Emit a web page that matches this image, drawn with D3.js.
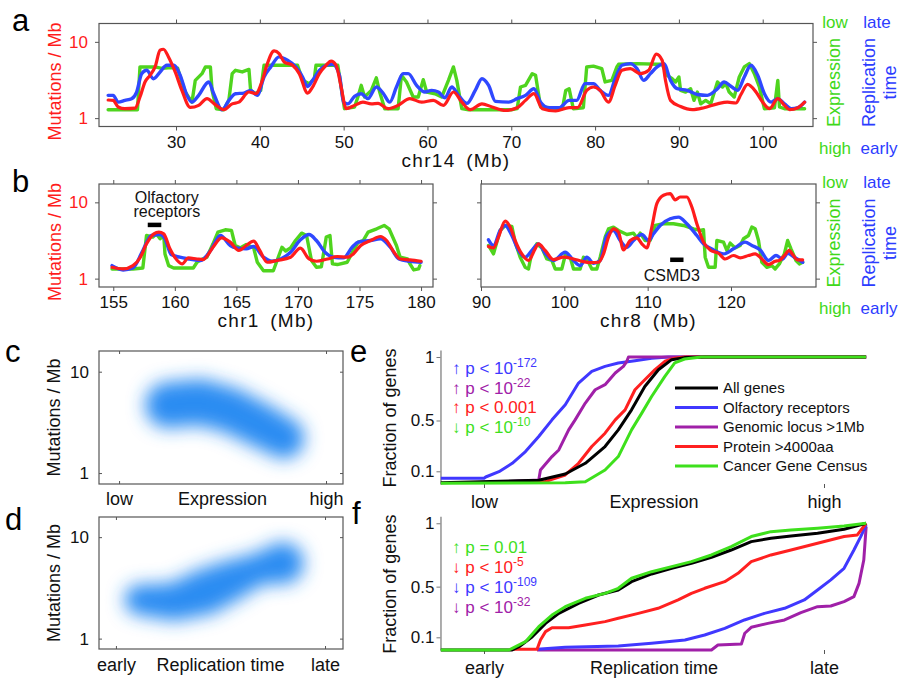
<!DOCTYPE html>
<html>
<head>
<meta charset="utf-8">
<script src="https://cdnjs.cloudflare.com/ajax/libs/d3/7.8.5/d3.min.js"></script>
<style>
  body { margin: 0; background: #fff; }
  svg { display: block; font-family: "Liberation Sans", Arial, Helvetica, sans-serif; }
</style>
</head>
<body>
<svg id="fig" width="900" height="681"></svg>
<script>
// ---- data ----
// tracks: [position (Mb), value on the mutations / Mb axis]
var chr14Ticks = [30, 40, 50, 60, 70, 80, 90, 100];
var chr1Ticks = [155, 160, 165, 170, 175, 180];
var chr8Ticks = [90, 100, 110, 120];
var mutTicks = [1, 10];

var chr14Mut = [[21.9,1.73],[22.5,1.71],[23.1,1.40],[23.9,1.33],[25.1,1.35],[25.7,1.89],[26.3,2.98],[26.9,3.64],[27.5,4.69],[28.1,7.77],[28.5,8.0],[29.1,6.35],[29.9,4.03],[30.7,2.31],[31.7,1.38],[32.7,1.47],[33.7,1.80],[34.5,1.56],[35.7,1.29],[36.7,1.54],[37.5,1.62],[38.7,2.20],[39.5,2.09],[40.3,3.13],[40.9,5.19],[41.7,7.6],[42.3,7.02],[42.9,5.46],[43.9,4.93],[44.7,3.83],[45.7,2.13],[46.3,2.56],[47.1,3.83],[47.9,4.93],[48.5,5.6],[49.1,4.93],[49.7,2.56],[50.3,1.33],[51.3,1.47],[52.3,1.62],[53.3,1.54],[54.1,1.56],[55.3,1.33],[56.5,1.47],[57.9,1.80],[59.3,1.62],[60.7,1.71],[61.9,1.47],[63.1,2.20],[64.1,1.62],[65.1,1.29],[66.5,1.54],[67.7,1.40],[69.3,1.26],[70.7,1.37],[71.7,1.71],[72.7,2.09],[73.7,1.33],[75.3,1.24],[76.9,1.37],[77.9,1.37],[79.0,2.31],[79.8,2.56],[80.6,2.31],[81.6,1.62],[82.4,2.69],[83.2,4.24],[84.2,4.46],[85.4,3.83],[86.4,4.24],[87.3,6.9],[88.0,5.74],[88.4,3.13],[89.0,1.71],[90.2,1.42],[91.6,1.29],[93.0,1.37],[94.6,1.54],[95.8,1.62],[96.8,1.58],[97.4,2.04],[98.2,2.77],[99.2,2.20],[100.0,1.62],[100.8,1.33],[101.8,1.80],[102.6,1.47],[103.2,1.29],[104.2,1.37],[105.0,1.62]];
var chr14Rep = [[21.9,1.99],[22.5,1.99],[23.1,1.62],[23.9,1.71],[24.7,1.80],[25.3,2.20],[25.9,3.83],[26.5,4.24],[27.3,3.29],[28.1,4.03],[28.9,4.93],[29.7,4.93],[30.5,3.64],[31.3,1.99],[31.9,1.62],[32.7,1.99],[33.9,2.98],[34.5,2.09],[35.5,1.29],[36.3,1.71],[37.1,2.09],[38.1,2.13],[38.9,2.31],[39.7,1.99],[40.5,3.46],[41.3,4.69],[42.3,6.35],[43.3,5.74],[44.3,4.69],[45.1,3.46],[45.7,2.60],[46.3,3.13],[47.1,4.24],[47.9,4.93],[48.7,5.08],[49.5,3.64],[50.0,1.60],[50.5,1.54],[51.3,1.93],[52.1,2.09],[52.9,1.80],[53.9,2.56],[54.7,2.13],[55.5,1.62],[56.3,2.56],[57.1,3.83],[57.7,3.83],[58.7,2.69],[59.7,2.20],[60.5,2.31],[61.3,2.20],[62.1,1.85],[62.9,2.56],[63.7,1.99],[64.7,1.56],[65.7,2.31],[66.5,3.29],[67.3,2.69],[68.1,1.66],[69.7,1.62],[70.7,1.80],[71.7,1.99],[72.7,2.43],[73.5,1.62],[74.5,1.37],[75.7,1.37],[76.9,1.71],[77.8,1.71],[78.8,2.83],[79.8,2.83],[80.6,2.31],[81.6,1.99],[82.4,3.29],[83.2,4.93],[84.2,5.19],[85.0,4.46],[85.8,3.13],[86.6,3.83],[87.4,4.69],[88.2,5.19],[89.0,3.13],[89.8,2.43],[91.0,2.31],[92.2,2.04],[93.4,1.99],[94.6,2.43],[95.4,2.98],[96.2,2.62],[97.0,2.31],[97.8,3.46],[98.6,4.93],[99.4,3.64],[100.2,2.09],[101.0,1.62],[101.8,1.80],[102.6,1.54],[103.4,1.33],[104.2,1.37],[105.0,1.62]];
var chr14Expr = [[21.9,1.29],[25.4,1.29],[25.7,4.69],[27.5,4.69],[28.3,4.5],[29.5,4.6],[30.2,4.5],[30.5,3.46],[31.1,2.20],[31.9,1.62],[32.3,3.13],[33.1,3.83],[33.5,4.69],[34.1,4.69],[34.3,2.31],[34.8,1.33],[35.7,1.29],[36.3,1.71],[36.7,3.83],[37.1,4.24],[37.9,4.03],[38.7,4.35],[38.9,2.31],[39.5,2.09],[40.1,2.31],[40.5,4.93],[44.5,4.93],[45.1,3.13],[45.9,2.83],[46.5,3.29],[46.7,4.93],[49.3,4.93],[49.7,2.56],[50.1,1.33],[51.3,1.40],[51.7,1.89],[52.1,2.69],[52.5,1.89],[53.3,2.31],[53.9,3.38],[54.3,2.20],[54.9,1.33],[56.5,1.33],[56.9,3.64],[57.5,2.98],[58.3,1.89],[58.9,1.89],[59.5,3.19],[59.9,2.20],[60.9,2.09],[61.7,1.89],[62.5,3.13],[63.1,4.69],[63.5,3.13],[64.1,1.33],[64.9,1.29],[70.1,1.29],[70.7,1.33],[71.1,2.56],[71.7,2.69],[72.5,3.83],[72.9,3.64],[73.5,1.40],[76.1,1.33],[76.5,2.31],[76.9,2.43],[77.4,1.33],[78.6,1.37],[79.0,4.69],[79.8,4.80],[80.8,4.46],[81.2,2.98],[82.0,3.13],[82.6,4.69],[82.8,5.08],[85.0,5.19],[87.4,5.08],[88.0,5.08],[88.6,3.64],[89.2,3.29],[89.6,2.98],[90.0,3.46],[90.2,2.31],[90.8,2.20],[91.4,2.43],[91.8,1.71],[92.2,2.20],[92.6,1.54],[93.2,1.71],[93.8,1.54],[94.6,2.98],[95.2,2.56],[95.6,2.83],[96.0,2.20],[96.6,1.89],[97.2,3.46],[97.8,4.69],[98.4,5.19],[99.0,3.83],[99.6,2.56],[100.2,1.33],[101.4,1.37],[101.8,3.13],[102.0,1.40],[102.6,1.33],[105.0,1.33]];

var chr1Mut = [[154.9,1.41],[155.8,1.34],[156.6,1.48],[157.2,1.91],[157.7,2.86],[158.3,3.87],[158.7,4.07],[159.1,3.87],[159.6,2.46],[160.2,1.73],[160.6,1.56],[161.1,1.87],[161.8,1.81],[162.3,1.78],[163.1,2.58],[163.8,3.43],[164.5,3.01],[165.2,2.34],[165.8,2.72],[166.4,3.10],[166.9,2.34],[167.5,1.64],[168.3,1.73],[169.4,1.91],[170.2,2.51],[170.9,1.81],[171.5,1.69],[172.4,1.81],[173.2,1.95],[174.0,1.91],[174.5,2.11],[175.1,2.72],[175.9,3.16],[176.7,3.57],[177.2,3.16],[177.8,2.22],[178.3,1.81],[179.1,1.76],[180.0,1.69]];
var chr1Rep = [[154.9,1.48],[155.8,1.30],[156.6,1.38],[157.4,2.34],[158.1,3.68],[158.8,3.79],[159.2,3.33],[159.7,2.07],[160.4,1.91],[161.2,1.81],[162.1,1.73],[162.9,2.34],[163.7,3.68],[164.5,2.72],[165.0,2.53],[165.8,2.46],[166.4,2.64],[167.2,1.91],[167.9,1.69],[168.6,1.81],[169.4,2.22],[170.2,3.23],[170.9,3.79],[171.5,3.16],[172.2,2.22],[172.9,1.91],[173.7,1.87],[174.4,2.58],[174.9,3.01],[175.9,3.16],[176.7,3.33],[177.5,2.58],[178.2,1.81],[179.1,1.69],[180.0,1.64]];
var chr1Expr = [[154.9,1.34],[156.6,1.34],[157.4,1.38],[157.7,3.68],[158.2,3.50],[158.5,3.87],[158.8,3.33],[159.1,3.68],[159.2,2.11],[159.5,1.48],[159.9,1.38],[161.5,1.38],[161.8,1.64],[162.1,1.76],[162.6,1.91],[163.1,2.86],[163.5,4.07],[164.1,4.37],[164.6,4.28],[164.9,2.72],[165.3,2.53],[165.8,2.80],[166.4,2.53],[166.7,1.64],[167.2,1.27],[168.0,1.27],[168.7,2.58],[169.0,2.30],[169.4,2.53],[169.8,3.16],[170.3,3.95],[170.7,3.68],[171.1,1.73],[171.5,1.41],[171.9,1.43],[172.3,3.50],[172.6,3.68],[172.8,1.56],[173.2,1.53],[174.0,1.64],[174.5,2.34],[174.9,3.01],[175.3,3.16],[175.7,4.07],[176.4,4.50],[177.0,4.98],[177.4,4.50],[178.0,2.72],[178.3,1.91],[178.9,1.81],[179.1,1.56],[179.4,1.30],[179.8,1.34],[179.9,1.48]];

var chr8Mut = [[90.9,2.64],[91.5,2.53],[92.1,3.50],[92.9,5.68],[93.5,4.74],[94.1,3.16],[94.9,2.11],[95.7,1.73],[96.5,2.46],[96.9,2.86],[97.7,2.34],[98.7,1.78],[99.9,1.91],[101.1,1.81],[102.1,1.69],[103.1,1.62],[104.1,1.64],[104.7,2.11],[105.3,3.50],[105.9,4.50],[106.5,4.07],[107.1,2.38],[107.9,3.16],[108.7,3.43],[109.3,2.86],[109.9,2.53],[110.5,4.74],[111.1,9.6],[111.9,12.4],[112.7,13.0],[113.3,10.8],[113.9,11.75],[114.7,11.75],[115.3,8.68],[115.9,5.24],[116.7,3.01],[117.5,2.38],[118.5,2.15],[119.3,1.81],[120.3,2.01],[121.1,1.87],[122.1,2.01],[122.9,2.11],[123.7,1.81],[124.5,1.53],[125.3,1.69],[125.8,1.73],[126.4,2.01],[127.0,2.34],[127.4,2.07],[128.0,1.76],[128.6,1.76]];
var chr8Rep = [[90.9,3.23],[91.5,2.72],[92.3,4.28],[92.9,4.98],[93.7,3.68],[94.5,2.34],[95.3,1.91],[96.1,2.34],[96.9,2.86],[97.7,2.15],[98.7,1.73],[100.1,2.22],[101.1,1.73],[101.9,1.48],[102.7,1.91],[103.5,1.59],[104.3,1.73],[105.1,3.68],[105.9,4.28],[106.7,3.16],[107.5,2.58],[108.3,3.16],[109.3,3.79],[110.1,3.16],[110.7,3.87],[111.5,4.98],[112.7,6.1],[113.7,6.41],[114.7,5.24],[115.9,3.68],[116.7,2.86],[117.9,2.38],[119.1,2.11],[120.3,2.46],[121.7,3.01],[122.5,2.72],[123.5,2.38],[124.5,1.73],[125.4,2.01],[126.2,1.81],[126.8,2.15],[127.6,1.91],[128.6,1.64]];
var chr8Expr = [[90.9,2.72],[91.5,2.11],[92.3,4.28],[92.9,4.98],[93.7,4.83],[94.1,3.01],[94.7,1.91],[95.3,1.41],[95.7,1.34],[96.1,2.22],[96.7,2.86],[97.3,2.53],[97.9,1.81],[98.5,1.73],[98.9,1.34],[99.7,1.34],[100.1,2.01],[100.7,1.91],[101.1,1.34],[101.9,1.34],[102.3,1.91],[102.9,1.64],[103.3,1.34],[103.9,1.34],[104.3,1.91],[104.9,3.50],[105.3,4.50],[105.9,4.74],[106.5,4.28],[107.5,3.79],[108.3,3.95],[108.7,3.43],[109.1,3.95],[109.7,3.16],[110.3,3.16],[110.9,4.98],[111.9,5.24],[113.1,5.24],[114.3,4.98],[115.5,4.50],[116.3,4.28],[116.7,4.37],[116.9,1.91],[117.3,1.41],[118.1,1.41],[118.3,3.16],[119.1,3.01],[119.5,2.34],[119.9,2.92],[120.5,2.53],[121.1,2.72],[121.5,3.33],[122.1,3.68],[122.5,4.74],[122.9,4.50],[123.3,3.16],[123.7,1.64],[124.3,1.41],[124.9,1.48],[125.3,1.34],[125.8,1.56],[126.4,2.11],[126.8,3.16],[127.2,2.46],[127.8,1.73],[128.2,1.56],[128.6,1.64]];

// gene bands marked on the tracks: [start Mb, end Mb], level on the mutation axis
var olfactoryBand = [157.8, 158.9], olfactoryLevel = 5.1;
var csmd3Band = [112.7, 114.3], csmd3Level = 1.78;

// density panels: blob centres (expression / replication rank 0..1, mutations / Mb) and spread in decades
var exprDensX = [0.237, 0.391, 0.536, 0.671, 0.797];
var exprDensMut = [4.68, 5.01, 4.18, 3.04, 2.21];
var exprDensSpread = [0.225, 0.225, 0.22, 0.215, 0.2];
var repDensX = [0.115, 0.282, 0.426, 0.545, 0.679, 0.799];
var repDensMut = [2.41, 2.30, 2.89, 3.70, 4.86, 5.56];
var repDensSpread = [0.15, 0.185, 0.225, 0.2, 0.155, 0.205];

// cumulative fraction of genes: [rank 0..1, fraction]
var fracTicks = [0.1, 0.5, 1];
var exprOlf = [[-0.127,0.045],[0.0,0.045],[0.005,0.055],[0.044,0.097],[0.083,0.163],[0.122,0.255],[0.161,0.374],[0.2,0.505],[0.239,0.624],[0.278,0.795],[0.317,0.887],[0.356,0.926],[0.395,0.953],[0.444,0.971],[0.493,0.99],[0.542,1.0],[1.124,1.0]];
var exprLocus = [[0.059,0.018],[0.161,0.032],[0.166,0.11],[0.2,0.216],[0.22,0.268],[0.249,0.426],[0.268,0.505],[0.298,0.637],[0.327,0.742],[0.356,0.782],[0.386,0.874],[0.41,0.926],[0.42,0.966],[0.425,1.0],[1.124,1.0]];
var exprProtein = [[0.059,0.018],[0.181,0.02],[0.2,0.037],[0.239,0.071],[0.278,0.163],[0.317,0.295],[0.356,0.4],[0.386,0.505],[0.415,0.584],[0.444,0.742],[0.473,0.821],[0.503,0.9],[0.532,0.966],[0.561,0.99],[0.59,1.0],[1.124,1.0]];
var exprAll = [[-0.127,0.01],[0.161,0.03],[0.239,0.079],[0.298,0.163],[0.356,0.295],[0.395,0.426],[0.434,0.584],[0.473,0.768],[0.513,0.9],[0.552,0.979],[0.59,0.995],[0.649,1.0],[1.124,1.0]];
var exprCancer = [[-0.127,0.005],[0.239,0.01],[0.298,0.018],[0.356,0.11],[0.395,0.216],[0.434,0.426],[0.464,0.558],[0.493,0.689],[0.532,0.847],[0.561,0.953],[0.59,0.984],[0.639,1.0],[1.124,1.0]];

var repLocus = [[0.156,0.0],[0.669,0.0],[0.688,0.039],[0.757,0.047],[0.767,0.132],[0.786,0.179],[0.835,0.21],[0.884,0.237],[0.932,0.295],[0.981,0.342],[1.02,0.347],[1.059,0.382],[1.088,0.421],[1.103,0.526],[1.117,0.71],[1.124,0.974]];
var repOlf = [[0.156,0.005],[0.239,0.021],[0.395,0.032],[0.493,0.053],[0.591,0.079],[0.649,0.118],[0.708,0.171],[0.766,0.237],[0.825,0.289],[0.884,0.329],[0.942,0.395],[0.981,0.474],[1.02,0.553],[1.059,0.645],[1.088,0.789],[1.108,0.895],[1.124,0.987]];
var repProtein = [[0.083,0.005],[0.156,0.005],[0.166,0.079],[0.181,0.145],[0.2,0.176],[0.249,0.176],[0.298,0.197],[0.356,0.224],[0.395,0.25],[0.454,0.289],[0.512,0.329],[0.571,0.395],[0.61,0.447],[0.649,0.487],[0.708,0.539],[0.747,0.605],[0.786,0.697],[0.844,0.75],[0.903,0.789],[0.981,0.842],[1.059,0.895],[1.098,0.908],[1.124,1.0]];
var repAll = [[-0.127,0.0],[0.083,0.0],[0.103,0.026],[0.142,0.105],[0.181,0.21],[0.22,0.289],[0.278,0.368],[0.337,0.434],[0.395,0.474],[0.434,0.539],[0.493,0.6],[0.552,0.645],[0.61,0.684],[0.669,0.732],[0.727,0.789],[0.786,0.855],[0.844,0.882],[0.903,0.9],[0.981,0.921],[1.059,0.953],[1.124,1.0]];
var repCancer = [[-0.127,0.0],[0.073,0.0],[0.083,0.013],[0.122,0.066],[0.161,0.184],[0.2,0.276],[0.239,0.342],[0.298,0.408],[0.356,0.447],[0.395,0.487],[0.434,0.566],[0.493,0.618],[0.552,0.658],[0.61,0.697],[0.669,0.75],[0.727,0.816],[0.786,0.895],[0.844,0.934],[0.903,0.947],[0.981,0.961],[1.059,0.979],[1.124,1.0]];

var legendLabels = ['All genes', 'Olfactory receptors', 'Genomic locus >1Mb', 'Protein >4000aa', 'Cancer Gene Census'];
// p-value notes: [arrow, text, superscript]
var exprNotes = [['↑', 'p < 10', '-172'], ['↑', 'p < 10', '-22'], ['↑', 'p < 0.001', ''], ['↓', 'p < 10', '-10']];
var repNotes = [['↑', 'p = 0.01', ''], ['↓', 'p < 10', '-5'], ['↓', 'p < 10', '-109'], ['↓', 'p < 10', '-32']];

// ---- drawing ----
var RED = '#ff1c1c', BLUE = '#2f48ff', GREEN = '#4fd41e', FRAME = '#555';
var TXT_GREEN = '#3fd81a', TXT_BLUE = '#2c3cff';
var C_BLACK = '#000', C_BLUE = '#4038ff', C_PURPLE = '#a020a8', C_RED = '#ff2020', C_GREEN = '#3ee01c';
var FONT = '"Liberation Sans", Arial, Helvetica, sans-serif';

var svg = d3.select('#fig');
svg.append('rect').attr('width', 900).attr('height', 681).attr('fill', '#fff');
var defs = svg.append('defs');
defs.append('filter').attr('id', 'soft')
    .attr('x', '-50%').attr('y', '-50%').attr('width', '200%').attr('height', '200%')
  .append('feGaussianBlur').attr('stdDeviation', 9);

var clipCount = 0;
var clipTo = function (box) {
    var id = 'clip' + (clipCount++);
    defs.append('clipPath').attr('id', id).append('rect')
        .attr('x', box.l).attr('y', box.t).attr('width', box.r - box.l).attr('height', box.b - box.t);
    return 'url(#' + id + ')';
};

var styleAxis = function (sel, size, color) {
    sel.attr('font-family', FONT);
    sel.select('.domain').remove();
    sel.selectAll('.tick line').attr('stroke', FRAME);
    sel.selectAll('.tick text').attr('font-size', size).attr('fill', color || '#111');
};

var frame = function (g, box) {
    g.append('rect').attr('x', box.l).attr('y', box.t)
        .attr('width', box.r - box.l).attr('height', box.b - box.t)
        .attr('fill', 'none').attr('stroke', FRAME).attr('stroke-width', 1.2);
};

var label = function (g, x, y, s, size, color, anchor) {
    return g.append('text').attr('x', x).attr('y', y).attr('font-size', size)
        .attr('fill', color || '#111').attr('text-anchor', anchor || 'middle').text(s);
};

var vlabel = function (g, x, y, s, size, color) {
    return g.append('text').attr('transform', 'translate(' + x + ',' + y + ') rotate(-90)')
        .attr('font-size', size).attr('fill', color || '#111').attr('text-anchor', 'middle').text(s);
};

var letter = function (x, y, s) {
    label(svg, x, y, s, 31, '#000', 'start');
};

// panels a, b: three tracks on a shared log axis
var trackDomain = [0.777, 17.4];
var drawTrack = function (box, xDomain, ticks, mut, rep, expr, title, leftLabels, rightScale) {
    var g = svg.append('g');
    var x = d3.scaleLinear().domain(xDomain).range([box.l, box.r]);
    var y = d3.scaleLog().domain(trackDomain).range([box.b, box.t]);

    g.append('g').attr('transform', 'translate(0,' + box.b + ')')
        .call(d3.axisBottom(x).tickValues(ticks).tickSize(4).tickPadding(5))
        .call(styleAxis, 17);
    g.append('g').attr('transform', 'translate(0,' + box.t + ')')
        .call(d3.axisTop(x).tickValues(ticks).tickSize(4).tickFormat(''))
        .call(styleAxis, 17);
    g.append('g').attr('transform', 'translate(' + box.l + ',0)')
        .call(d3.axisLeft(y).tickValues(mutTicks).tickSize(4).tickPadding(7)
            .tickFormat(leftLabels ? d3.format('d') : ''))
        .call(styleAxis, 17, RED);
    g.append('g').attr('transform', 'translate(' + box.r + ',0)')
        .call(d3.axisRight(y).tickValues(mutTicks).tickSize(4).tickFormat(''))
        .call(styleAxis, 17);

    var line = function (curve) {
        return d3.line().x(function (d) { return x(d[0]); }).y(function (d) { return y(d[1]); }).curve(curve);
    };
    var lines = g.append('g').attr('clip-path', clipTo(box)).attr('fill', 'none')
        .attr('stroke-linejoin', 'round').attr('stroke-linecap', 'round');
    lines.append('path').datum(expr).attr('d', line(d3.curveLinear)).attr('stroke', GREEN).attr('stroke-width', 3.4);
    lines.append('path').datum(rep).attr('d', line(d3.curveMonotoneX)).attr('stroke', BLUE).attr('stroke-width', 3.4);
    lines.append('path').datum(mut).attr('d', line(d3.curveMonotoneX)).attr('stroke', RED).attr('stroke-width', 3.2);
    frame(g, box);

    label(g, (box.l + box.r) / 2, box.b + 40, title, 19)
        .attr('letter-spacing', 1.3).attr('word-spacing', 4);
    if (leftLabels) vlabel(g, 61, (box.t + box.b) / 2 + 6.5, 'Mutations / Mb', 18, RED);
    if (rightScale) {
        var mid = (box.t + box.b) / 2 + 7.5;
        label(g, 835, box.t + 4, 'low', 17, TXT_GREEN);
        label(g, 877, box.t + 4, 'late', 17, TXT_BLUE);
        vlabel(g, 840, mid, 'Expression', 18, TXT_GREEN);
        vlabel(g, 875, mid, 'Replication', 18, TXT_BLUE);
        vlabel(g, 896, mid, 'time', 18, TXT_BLUE);
        label(g, 835, box.b + 27, 'high', 17, TXT_GREEN);
        label(g, 879, box.b + 27, 'early', 17, TXT_BLUE);
    }
    return { g: g, x: x, y: y };
};

var boxA = { l: 99, r: 813, t: 23.5, b: 126.5 };
var boxB1 = { l: 99, r: 433, t: 184, b: 287 };
var boxB2 = { l: 481, r: 816, t: 184, b: 287 };

drawTrack(boxA, [20.81, 106.0], chr14Ticks, chr14Mut, chr14Rep, chr14Expr, 'chr14 (Mb)', true, true);
var b1 = drawTrack(boxB1, [153.84, 180.97], chr1Ticks, chr1Mut, chr1Rep, chr1Expr, 'chr1 (Mb)', true, false);
var b2 = drawTrack(boxB2, [90, 130.2], chr8Ticks, chr8Mut, chr8Rep, chr8Expr, 'chr8 (Mb)', false, true);

// gene bands
b1.g.append('rect').attr('x', b1.x(olfactoryBand[0])).attr('y', b1.y(olfactoryLevel) - 2)
    .attr('width', b1.x(olfactoryBand[1]) - b1.x(olfactoryBand[0])).attr('height', 4.5).attr('fill', '#000');
label(b1.g, b1.x(159.35), boxB1.t + 19, 'Olfactory', 16);
label(b1.g, b1.x(159.35), boxB1.t + 33, 'receptors', 16);
b2.g.append('rect').attr('x', b2.x(csmd3Band[0])).attr('y', b2.y(csmd3Level) - 2)
    .attr('width', b2.x(csmd3Band[1]) - b2.x(csmd3Band[0])).attr('height', 4.5).attr('fill', '#000');
label(b2.g, b2.x(112.9), b2.y(csmd3Level) + 21, 'CSMD3', 16);

// panels c, d: smoothed density of genes
var drawDensity = function (box, xDomain, yDomain, xLabels, xTitle, bx, bm, bs, labelPad) {
    var g = svg.append('g');
    var x = d3.scaleLinear().domain(xDomain).range([box.l, box.r]);
    var y = d3.scaleLog().domain(yDomain).range([box.b, box.t]);
    var pts = bx.map(function (d, i) {
        return { x: x(d), y: y(bm[i]), r: y(bm[i]) - y(bm[i] * Math.pow(10, bs[i])) };
    });
    var blobs = g.append('g').attr('clip-path', clipTo(box)).append('g')
        .attr('filter', 'url(#soft)').attr('fill', '#2b8cf2');
    blobs.selectAll('circle').data(pts).enter().append('circle')
        .attr('cx', function (d) { return d.x; })
        .attr('cy', function (d) { return d.y; })
        .attr('r', function (d) { return d.r; });
    // fill the waist between neighbouring centres
    blobs.selectAll('polygon').data(d3.pairs(pts)).enter().append('polygon')
        .attr('points', function (p) {
            var a = p[0], b = p[1];
            var len = Math.hypot(b.x - a.x, b.y - a.y), nx = -(b.y - a.y) / len, ny = (b.x - a.x) / len;
            return [[a.x + nx * a.r, a.y + ny * a.r], [b.x + nx * b.r, b.y + ny * b.r],
                    [b.x - nx * b.r, b.y - ny * b.r], [a.x - nx * a.r, a.y - ny * a.r]].join(' ');
        });

    g.append('g').attr('transform', 'translate(0,' + box.b + ')')
        .call(d3.axisBottom(x).tickValues([0, 1]).tickSize(-3).tickPadding(labelPad)
            .tickFormat(function (d, i) { return xLabels[i]; }))
        .call(styleAxis, 18);
    g.append('g').attr('transform', 'translate(0,' + box.t + ')')
        .call(d3.axisTop(x).tickValues([0, 1]).tickSize(-3).tickFormat(''))
        .call(styleAxis, 17);
    g.append('g').attr('transform', 'translate(' + box.l + ',0)')
        .call(d3.axisLeft(y).tickValues(mutTicks).tickSize(-3).tickPadding(10).tickFormat(d3.format('d')))
        .call(styleAxis, 17);
    g.append('g').attr('transform', 'translate(' + box.r + ',0)')
        .call(d3.axisRight(y).tickValues(mutTicks).tickSize(-3).tickFormat(''))
        .call(styleAxis, 17);
    frame(g, box);
    label(g, x(0.5), box.b + labelPad + 12.5, xTitle, 18);
    vlabel(g, 60, (box.t + box.b) / 2, 'Mutations / Mb', 18);
};

drawDensity({ l: 99, r: 343, t: 351, b: 484 }, [-0.097, 1.082], [0.78, 16],
    ['low', 'high'], 'Expression', exprDensX, exprDensMut, exprDensSpread, 8.5);
drawDensity({ l: 99, r: 343, t: 517, b: 649 }, [-0.081, 1.086], [0.79, 15.8],
    ['early', 'late'], 'Replication time', repDensX, repDensMut, repDensSpread, 9.5);

// panels e, f: cumulative distributions
var drawCdf = function (top, bottom, xLabels, xTitle, series, notes, noteColors, noteY, noteStep, legend) {
    var g = svg.append('g');
    var x = d3.scaleLinear().domain([0, 1]).range([484, 824]);
    var y = d3.scaleLinear().domain([0, 1.055]).range([bottom, top]);
    var x0 = x(-0.128);

    g.append('g').attr('transform', 'translate(' + x0 + ',0)')
        .call(d3.axisLeft(y).tickValues(fracTicks).tickSize(4).tickSizeOuter(0).tickPadding(2)
            .tickFormat(function (d) { return d === 1 ? '1' : d3.format('.1f')(d); }))
        .call(function (sel) {
            sel.attr('font-family', FONT);
            sel.select('.domain').attr('stroke', '#777').attr('stroke-width', 1.2);
            sel.selectAll('.tick line').attr('stroke', '#777');
            sel.selectAll('.tick text').attr('font-size', 17).attr('fill', '#111');
        });
    g.append('g').attr('transform', 'translate(0,' + bottom + ')')
        .call(d3.axisBottom(x).tickValues([0, 1]).tickSize(4).tickPadding(7)
            .tickFormat(function (d, i) { return xLabels[i]; }))
        .call(styleAxis, 18);
    label(g, x(0.5), bottom + 23.5, xTitle, 18);
    vlabel(g, 396, (top + bottom) / 2 + 1, 'Fraction of genes', 18);

    var line = d3.line().x(function (d) { return x(d[0]); }).y(function (d) { return y(d[1]); });
    g.append('g').attr('fill', 'none').attr('stroke-width', 3).attr('stroke-linejoin', 'round')
        .selectAll('path').data(series).enter().append('path')
        .attr('d', function (d) { return line(d.values); })
        .attr('stroke', function (d) { return d.color; });

    notes.forEach(function (n, i) {
        var t = g.append('text').attr('x', 452).attr('y', noteY + i * noteStep)
            .attr('font-size', 17).attr('fill', noteColors[i]);
        t.append('tspan').text(n[0] + ' ' + n[1]);
        if (n[2]) t.append('tspan').attr('font-size', 12).attr('dy', -7).text(n[2]);
    });

    if (legend) {
        var colors = [C_BLACK, C_BLUE, C_PURPLE, C_RED, C_GREEN];
        var lg = g.append('g');
        legendLabels.forEach(function (s, i) {
            var ly = 388 + i * 19.5;
            lg.append('line').attr('x1', 675).attr('x2', 718).attr('y1', ly).attr('y2', ly)
                .attr('stroke', colors[i]).attr('stroke-width', 3);
            label(lg, 723, ly + 5, s, 15, '#111', 'start');
        });
    }
};

drawCdf(350, 484, ['low', 'high'], 'Expression', [
    { values: exprOlf, color: C_BLUE },
    { values: exprLocus, color: C_PURPLE },
    { values: exprProtein, color: C_RED },
    { values: exprAll, color: C_BLACK },
    { values: exprCancer, color: C_GREEN }
], exprNotes, [C_BLUE, C_PURPLE, C_RED, C_GREEN], 374, 19.5, true);

drawCdf(516.3, 650, ['early', 'late'], 'Replication time', [
    { values: repLocus, color: C_PURPLE },
    { values: repOlf, color: C_BLUE },
    { values: repProtein, color: C_RED },
    { values: repAll, color: C_BLACK },
    { values: repCancer, color: C_GREEN }
], repNotes, [C_GREEN, C_RED, C_BLUE, C_PURPLE], 553, 20, false);

letter(12, 31, 'a');
letter(12, 192, 'b');
letter(5, 362, 'c');
letter(5, 530, 'd');
letter(350, 362, 'e');
letter(352, 524, 'f');
</script>
</body>
</html>
